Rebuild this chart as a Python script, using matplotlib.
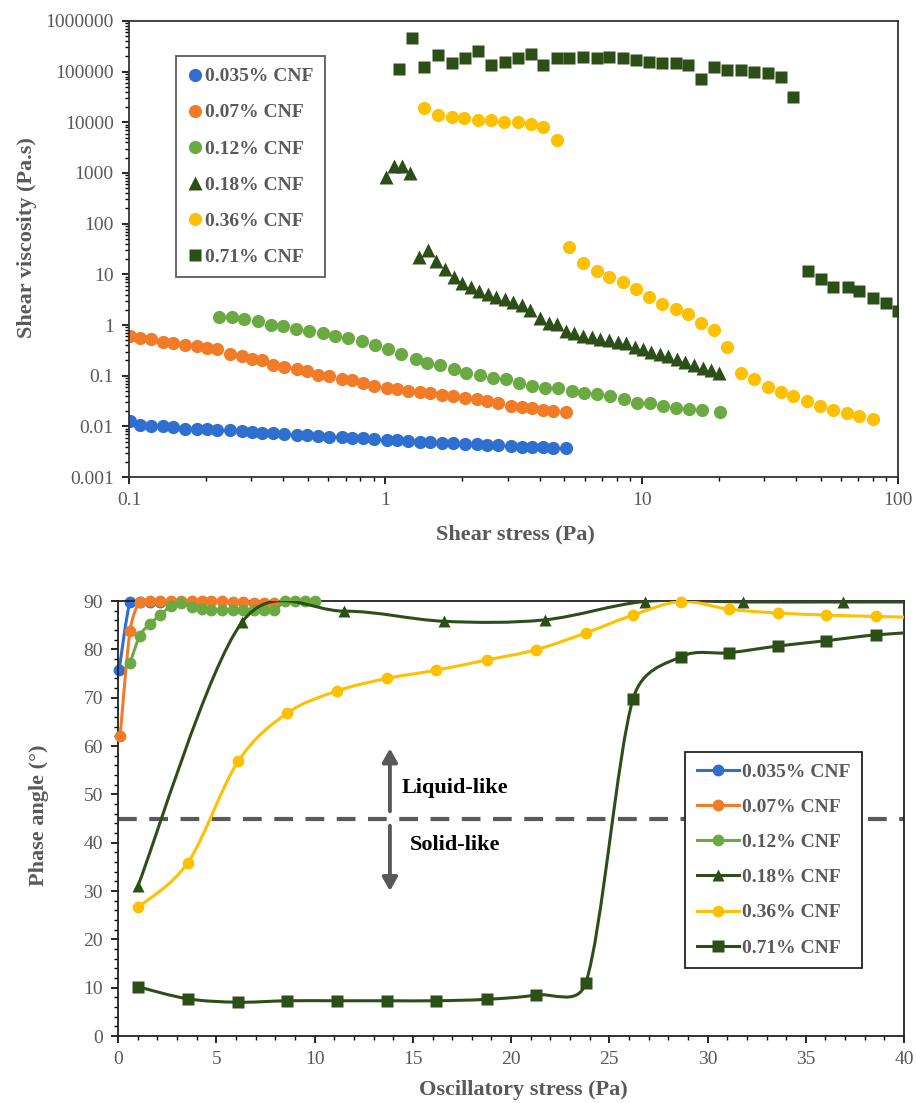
import numpy as np
import matplotlib.pyplot as plt
from matplotlib.path import Path
from matplotlib.patches import PathPatch, Rectangle
from matplotlib.lines import Line2D
from matplotlib.ticker import LogLocator, NullFormatter, MultipleLocator

plt.rcParams['font.family'] = ['Liberation Serif', 'DejaVu Serif']

# ---------------- data: top panel (flow curves) ----------------
labels = ['0.035% CNF', '0.07% CNF', '0.12% CNF', '0.18% CNF', '0.36% CNF', '0.71% CNF']

visc_x_low = [0.101, 0.110, 0.122, 0.136, 0.149, 0.166, 0.184, 0.202, 0.221, 0.248,
              0.276, 0.302, 0.331, 0.365, 0.403, 0.453, 0.496, 0.548, 0.604, 0.679,
              0.743, 0.820, 0.906, 1.018, 1.114, 1.23, 1.37, 1.50, 1.67, 1.84,
              2.05, 2.27, 2.50, 2.74, 3.08, 3.40, 3.75, 4.14, 4.53, 5.09]
visc_035 = [0.0125, 0.0108, 0.0101, 0.0100, 0.0099, 0.0089, 0.0088, 0.0087, 0.0084, 0.0083,
            0.0080, 0.0077, 0.0075, 0.0073, 0.0071, 0.0069, 0.0067, 0.0065, 0.0063, 0.0062,
            0.0060, 0.0058, 0.0057, 0.0055, 0.0053, 0.0051, 0.0050, 0.0049, 0.0047, 0.0046,
            0.0045, 0.0044, 0.0043, 0.0042, 0.0041, 0.0040, 0.0039, 0.0039, 0.0038, 0.0038]
visc_07 = [0.62, 0.56, 0.52, 0.47, 0.44, 0.40, 0.38, 0.35, 0.33, 0.27,
           0.245, 0.215, 0.20, 0.165, 0.15, 0.133, 0.122, 0.105, 0.097, 0.086,
           0.081, 0.072, 0.064, 0.058, 0.055, 0.049, 0.047, 0.045, 0.042, 0.039,
           0.037, 0.034, 0.031, 0.029, 0.0255, 0.024, 0.0228, 0.0212, 0.0198, 0.0190]

visc_x_012 = [0.225, 0.253, 0.280, 0.318, 0.358, 0.399, 0.450, 0.503, 0.572, 0.638,
              0.714, 0.808, 0.912, 1.028, 1.150, 1.316, 1.46, 1.64, 1.86, 2.07,
              2.35, 2.64, 2.96, 3.33, 3.75, 4.21, 4.71, 5.35, 5.98, 6.71,
              7.55, 8.50, 9.56, 10.8, 12.1, 13.6, 15.3, 17.2, 20.2]
visc_012 = [1.45, 1.45, 1.33, 1.22, 1.0, 0.94, 0.85, 0.77, 0.71, 0.61,
            0.565, 0.485, 0.40, 0.33, 0.265, 0.215, 0.18, 0.16, 0.138, 0.114,
            0.101, 0.091, 0.087, 0.072, 0.062, 0.058, 0.058, 0.050, 0.045, 0.043,
            0.040, 0.035, 0.029, 0.0285, 0.025, 0.023, 0.0225, 0.021, 0.019]

visc_x_018 = [1.01, 1.08, 1.165, 1.25,
              1.35, 1.47, 1.58, 1.71, 1.85, 1.99, 2.16, 2.33, 2.51, 2.71,
              2.92, 3.14, 3.42, 3.68, 4.00, 4.35, 4.69, 5.08, 5.47, 5.90,
              6.42, 6.87, 7.45, 8.08, 8.71, 9.39, 10.1, 10.9, 11.8, 12.7,
              13.7, 14.7, 16.0, 17.3, 18.6, 20.0]
visc_018 = [850, 1350, 1350, 1000,
            21.5, 30.5, 18.5, 12.5, 9.0, 6.9, 5.6, 4.6, 4.1, 3.65,
            3.2, 2.9, 2.5, 1.95, 1.38, 1.12, 1.05, 0.75, 0.69, 0.62,
            0.575, 0.54, 0.51, 0.47, 0.44, 0.365, 0.335, 0.30, 0.27, 0.24,
            0.21, 0.19, 0.165, 0.142, 0.127, 0.112]

visc_x_036 = [1.42, 1.61, 1.82, 2.03, 2.29, 2.59, 2.90, 3.29, 3.71, 4.13, 4.69,
              5.20, 5.92, 6.71, 7.45, 8.48, 9.48, 10.7, 12.0, 13.6, 15.2, 17.1, 19.2,
              21.6, 24.5, 27.5, 31.0, 34.9, 39.1, 44.2, 49.8, 55.6, 63.2, 70.6, 79.6]
visc_036 = [19300, 13900, 12800, 11900, 11000, 11000, 10200, 10200, 9200, 7900, 4400,
            35, 16.5, 11.8, 9.0, 7.1, 5.1, 3.6, 2.6, 2.05, 1.65, 1.1, 0.80,
            0.37, 0.115, 0.085, 0.061, 0.048, 0.039, 0.032, 0.0255, 0.0215, 0.0187, 0.016, 0.0142]

visc_x_071 = [1.13, 1.27, 1.42, 1.61, 1.82, 2.04, 2.29, 2.59, 2.92, 3.29,
              3.71, 4.13, 4.69, 5.20, 5.92, 6.71, 7.45, 8.48, 9.48, 10.7,
              12.0, 13.6, 15.2, 17.1, 19.2, 21.6, 24.5, 27.5, 31.0, 35.0, 39.1,
              44.4, 50.0, 55.6, 63.6, 70.6, 79.6, 89.8, 100]
visc_071 = [115000, 470000, 121000, 211000, 149000, 182000, 258000, 134000, 156000, 182000,
            221000, 134000, 182000, 182000, 196000, 182000, 196000, 182000, 169000, 156000,
            145000, 145000, 134000, 70000, 124000, 107000, 107000, 99000, 92000, 79000, 31000,
            11.8, 8.0, 5.6, 5.5, 4.6, 3.4, 2.7, 1.9]

visc_ticks = [0.001, 0.01, 0.1, 1, 10, 100, 1000, 10000, 100000, 1000000]
visc_ticklabels = ['0.001', '0.01', '0.1', '1', '10', '100', '1000', '10000', '100000', '1000000']
stress_ticks = [0.1, 1, 10, 100]
stress_ticklabels = ['0.1', '1', '10', '100']

# ---------------- data: bottom panel (phase angle) ----------------
pa_x_035 = [0.05, 0.6, 1.1, 1.6, 2.15]
pa_035 = [75.8, 89.8, 89.9, 89.9, 89.9]
pa_x_07 = [0.1, 0.6, 1.1, 1.6, 2.15, 2.7, 3.2, 3.75, 4.25, 4.75, 5.3, 5.85, 6.35, 6.9, 7.4, 7.95]
pa_07 = [62.0, 83.7, 89.9, 90.0, 90.0, 90.0, 90.0, 90.0, 90.0, 90.0, 90.0, 89.8, 89.7, 89.6, 89.6, 89.5]
pa_x_012 = [0.6, 1.1, 1.6, 2.15, 2.7, 3.2, 3.75, 4.25, 4.75, 5.3, 5.85, 6.35, 6.9, 7.4, 7.95,
            8.5, 9.0, 9.5, 10.0]
pa_012 = [77.1, 82.8, 85.2, 87.1, 89.0, 89.5, 88.8, 88.4, 88.1, 88.2, 88.2, 88.2, 88.2, 88.2, 88.2,
          90.0, 90.0, 90.0, 90.0]
pa_x_018 = [1.0, 6.3, 11.5, 16.6, 21.7, 26.8, 31.8, 36.9, 42.0]
pa_018 = [31.0, 85.6, 87.9, 85.8, 86.1, 89.9, 89.8, 89.8, 89.8]
pa_x_036 = [1.0, 3.55, 6.1, 8.6, 11.15, 13.7, 16.2, 18.75, 21.25, 23.8, 26.2, 28.65, 31.1,
            33.6, 36.05, 38.55, 41.0]
pa_036 = [26.6, 35.9, 56.8, 66.8, 71.4, 74.0, 75.7, 77.8, 79.9, 83.4, 87.1, 89.9, 88.3,
          87.5, 87.1, 86.8, 86.6]
pa_x_071 = [1.0, 3.55, 6.1, 8.6, 11.15, 13.7, 16.2, 18.75, 21.25, 23.8, 26.2, 28.65, 31.1,
            33.6, 36.05, 38.55, 41.0]
pa_071 = [10.2, 7.7, 7.0, 7.3, 7.3, 7.3, 7.3, 7.6, 8.5, 11.0, 69.7, 78.5, 79.3,
          80.7, 81.8, 83.0, 83.6]

BLUE = '#2F6FCF'
ORANGE = '#F27B28'
GREEN = '#6BAA42'
DKGREEN = '#2C4F18'
YELLOW = '#FFC000'
GREY = '#595959'

fig = plt.figure(figsize=(9.16, 11.03), dpi=100)

# ================= top panel =================
ax1 = fig.add_axes([0.1408, 0.5675, 0.8395, 0.4135])
ax1.set_xscale('log')
ax1.set_yscale('log')
ms = 9.5
ax1.plot(visc_x_low, visc_035, 'o', color=BLUE, ms=ms, mec='none', label=labels[0])
ax1.plot(visc_x_low, visc_07, 'o', color=ORANGE, ms=ms, mec='none', label=labels[1])
ax1.plot(visc_x_012, visc_012, 'o', color=GREEN, ms=ms, mec='none', label=labels[2])
ax1.plot(visc_x_018, visc_018, '^', color=DKGREEN, ms=ms, mec='none', label=labels[3])
ax1.plot(visc_x_036, visc_036, 'o', color=YELLOW, ms=ms, mec='none', label=labels[4])
ax1.plot(visc_x_071, visc_071, 's', color=DKGREEN, ms=ms - 0.5, mec='none', label=labels[5])

ax1.set_xlim(0.1, 100)
ax1.set_ylim(0.001, 1000000)
ax1.set_xticks(stress_ticks)
ax1.set_xticklabels(stress_ticklabels)
ax1.set_yticks(visc_ticks)
ax1.set_yticklabels(visc_ticklabels)
ax1.xaxis.set_minor_locator(LogLocator(base=10, subs=np.arange(2, 10)))
ax1.yaxis.set_minor_locator(LogLocator(base=10, subs=np.arange(2, 10), numticks=20))
ax1.xaxis.set_minor_formatter(NullFormatter())
ax1.yaxis.set_minor_formatter(NullFormatter())
ax1.tick_params(which='major', direction='out', length=5, width=1.2, labelsize=14,
                labelcolor=GREY, pad=6)
ax1.tick_params(which='minor', direction='out', length=3, width=1)
for s in ax1.spines.values():
    s.set_linewidth(1.3)
    s.set_color('#333333')
ax1.set_ylabel('Shear viscosity (Pa.s)', fontsize=16, fontweight='bold', color=GREY)
ax1.set_xlabel('Shear stress (Pa)', fontsize=16, fontweight='bold', color=GREY)
ax1.yaxis.set_label_coords(-0.12, 0.526)
ax1.xaxis.set_label_coords(0.502, -0.105)
leg1 = ax1.legend(loc='upper left', bbox_to_anchor=(0.061, 0.923), borderaxespad=0,
                  frameon=True, fancybox=False, edgecolor='#333333', handlelength=0.8,
                  handletextpad=0.1, labelspacing=0.95, borderpad=0.6,
                  prop={'size': 14, 'weight': 'bold'})
leg1.get_frame().set_linewidth(1.3)
for t in leg1.get_texts():
    t.set_color(GREY)

# ================= bottom panel =================
ax2 = fig.add_axes([0.129, 0.0607, 0.858, 0.3944])
ax2.set_xlim(0, 40)
ax2.set_ylim(0, 90)
ax2.set_xticks(np.arange(0, 41, 5))
ax2.set_yticks(np.arange(0, 91, 10))
ax2.xaxis.set_minor_locator(MultipleLocator(1))
ax2.yaxis.set_minor_locator(MultipleLocator(2))
ax2.tick_params(which='major', direction='out', length=5, width=1.2, labelsize=14,
                labelcolor=GREY, pad=6)
ax2.tick_params(which='minor', direction='out', length=3, width=1)
for s in ax2.spines.values():
    s.set_linewidth(1.3)
    s.set_color('#222222')


def smooth_path(ax, xs, ys, cap=0.5):
    # Excel-like smoothed line: Catmull-Rom bezier built in screen space
    pts = ax.transData.transform(np.column_stack([xs, ys]))
    n = len(pts)
    verts = [pts[0]]
    codes = [Path.MOVETO]
    for i in range(n - 1):
        p0 = pts[i - 1] if i > 0 else pts[i]
        p1, p2 = pts[i], pts[i + 1]
        p3 = pts[i + 2] if i + 2 < n else pts[i + 1]
        seg = np.hypot(*(p2 - p1))
        t1 = (p2 - p0) / 6.0
        t2 = (p3 - p1) / 6.0
        l1, l2 = np.hypot(*t1), np.hypot(*t2)
        if l1 > cap * seg:
            t1 = t1 * cap * seg / l1
        if l2 > cap * seg:
            t2 = t2 * cap * seg / l2
        verts += [p1 + t1, p2 - t2, p2]
        codes += [Path.CURVE4] * 3
    return Path(ax.transData.inverted().transform(np.array(verts)), codes)


clip_rect = Rectangle((-0.03, -0.05), 1.04, 1.12, transform=ax2.transAxes,
                      facecolor='none', edgecolor='none')

series = [
    (pa_x_035, pa_035, BLUE, 'o', labels[0]),
    (pa_x_07, pa_07, ORANGE, 'o', labels[1]),
    (pa_x_012, pa_012, GREEN, 'o', labels[2]),
    (pa_x_018, pa_018, DKGREEN, '^', labels[3]),
    (pa_x_036, pa_036, YELLOW, 'o', labels[4]),
    (pa_x_071, pa_071, DKGREEN, 's', labels[5]),
]
handles = []
for k, (xs, ys, c, m, lab) in enumerate(series):
    patch = PathPatch(smooth_path(ax2, xs, ys), facecolor='none', edgecolor=c, lw=2.2,
                      zorder=2 + k)
    ax2.add_patch(patch)
    ln, = ax2.plot(xs, ys, ls='none', marker=m, color=c, ms=8.5, mec='none', zorder=2 + k)
    ln.set_clip_path(clip_rect)
    handles.append(Line2D([], [], color=c, lw=2.2, marker=m, ms=8.5, mec='none'))

# liquid / solid boundary at 45 degrees
ax2.axhline(45, color=GREY, lw=3, ls=(0, (4.5, 3)), zorder=1)
ax2.annotate('', xy=(13.83, 59.5), xytext=(13.83, 46.5),
             arrowprops=dict(arrowstyle='-|>,head_length=0.8,head_width=0.45', color=GREY,
                             lw=2.8, shrinkA=0, shrinkB=0))
ax2.annotate('', xy=(13.83, 30.0), xytext=(13.83, 43.5),
             arrowprops=dict(arrowstyle='-|>,head_length=0.8,head_width=0.45', color=GREY,
                             lw=2.8, shrinkA=0, shrinkB=0))
ax2.text(14.45, 51.3, 'Liquid-like', fontsize=16, fontweight='bold', va='center', ha='left')
ax2.text(14.85, 39.5, 'Solid-like', fontsize=16, fontweight='bold', va='center', ha='left')

ax2.set_ylabel('Phase angle (°)', fontsize=16, fontweight='bold', color=GREY)
ax2.set_xlabel('Oscillatory stress (Pa)', fontsize=16, fontweight='bold', color=GREY)
ax2.yaxis.set_label_coords(-0.088, 0.508)
ax2.xaxis.set_label_coords(0.515, -0.1)

leg2 = ax2.legend(handles, labels, loc='lower right', bbox_to_anchor=(0.947, 0.156),
                  borderaxespad=0, frameon=True, fancybox=False, framealpha=1,
                  edgecolor='#222222', handlelength=2.2, handletextpad=0.15,
                  labelspacing=0.9, borderpad=0.6, prop={'size': 14, 'weight': 'bold'})
leg2.get_frame().set_linewidth(1.3)
leg2.set_zorder(20)
for t in leg2.get_texts():
    t.set_color(GREY)

fig.savefig('out.png', dpi=100)
